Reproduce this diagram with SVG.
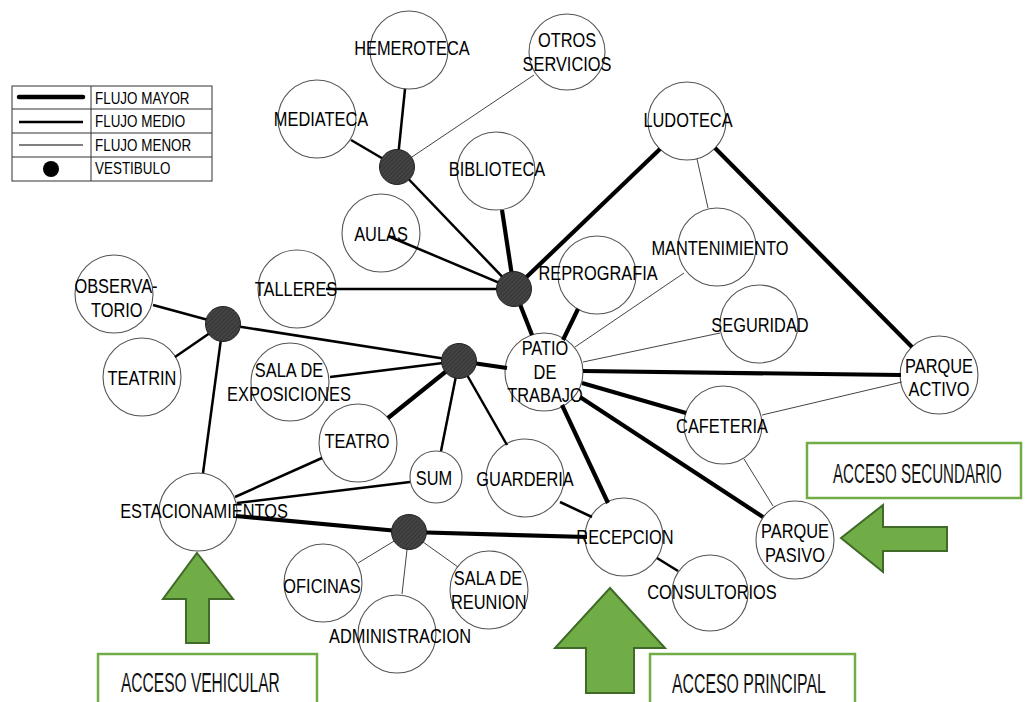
<svg xmlns="http://www.w3.org/2000/svg" width="1025" height="702" viewBox="0 0 1025 702">
<defs>
<pattern id="hatch" width="3" height="3" patternUnits="userSpaceOnUse" patternTransform="rotate(45)">
<rect width="3" height="3" fill="#444"/>
<line x1="0" y1="0" x2="0" y2="3" stroke="#2a2a2a" stroke-width="1.2"/>
</pattern>
</defs>
<style>
.n circle{fill:#fff;stroke:#555;stroke-width:1.1}
.n text,.lg text{font-family:"Liberation Sans",Arial,sans-serif;font-size:21px;fill:#000;text-anchor:middle}
.lg text{font-size:16px;text-anchor:start}
.hub{fill:url(#hatch);stroke:#222;stroke-width:1}
.t{stroke:#000;stroke-width:4.2;fill:none}
.m{stroke:#000;stroke-width:2.5;fill:none}
.l{stroke:#444;stroke-width:1;fill:none}
.box{fill:#fff;stroke:#70ad47;stroke-width:2.5}
.arr{fill:#70ad47;stroke:#3f6a27;stroke-width:2}
.acc{font-family:"Liberation Sans",Arial,sans-serif;font-size:28px;fill:#111}
</style>
<rect width="1025" height="702" fill="#fff"/>

<g id="legend" class="lg">
<rect x="12" y="86" width="200" height="95" fill="#fff" stroke="#333" stroke-width="1"/>
<line x1="12" y1="109" x2="212" y2="109" stroke="#333" stroke-width="1"/>
<line x1="12" y1="133" x2="212" y2="133" stroke="#333" stroke-width="1"/>
<line x1="12" y1="157" x2="212" y2="157" stroke="#333" stroke-width="1"/>
<line x1="91" y1="86" x2="91" y2="181" stroke="#333" stroke-width="1"/>
<line x1="19" y1="97" x2="83" y2="97" stroke="#000" stroke-width="4.5" stroke-linecap="round"/>
<line x1="19" y1="122" x2="83" y2="122" stroke="#000" stroke-width="2.5"/>
<line x1="19" y1="145" x2="83" y2="145" stroke="#000" stroke-width="1"/>
<circle cx="51" cy="169" r="8" fill="#000"/>
<text transform="translate(95 104) scale(0.84 1)">FLUJO MAYOR</text>
<text transform="translate(95 127) scale(0.84 1)">FLUJO MEDIO</text>
<text transform="translate(95 151) scale(0.84 1)">FLUJO MENOR</text>
<text transform="translate(95 174) scale(0.84 1)">VESTIBULO</text>
</g>

<g id="n-hemeroteca" class="n"><circle cx="409" cy="50" r="39"/><text transform="translate(412 55) scale(0.78 1)">HEMEROTECA</text></g>
<g id="n-otros" class="n"><circle cx="567" cy="52" r="38"/><text transform="translate(567 47) scale(0.78 1)"><tspan x="0">OTROS</tspan><tspan x="0" dy="24">SERVICIOS</tspan></text></g>
<g id="n-mediateca" class="n"><circle cx="317" cy="119" r="39"/><text transform="translate(321 126) scale(0.78 1)">MEDIATECA</text></g>
<g id="n-biblioteca" class="n"><circle cx="496" cy="171" r="39"/><text transform="translate(497 176) scale(0.78 1)">BIBLIOTECA</text></g>
<g id="n-aulas" class="n"><circle cx="381" cy="233" r="39"/><text transform="translate(381 241) scale(0.78 1)">AULAS</text></g>
<g id="n-talleres" class="n"><circle cx="297" cy="289" r="39"/><text transform="translate(296 296) scale(0.78 1)">TALLERES</text></g>
<g id="n-reprografia" class="n"><circle cx="597" cy="275" r="39"/><text transform="translate(598 280) scale(0.78 1)">REPROGRAFIA</text></g>
<g id="n-ludoteca" class="n"><circle cx="687" cy="121" r="39"/><text transform="translate(688 127) scale(0.78 1)">LUDOTECA</text></g>
<g id="n-mantenimiento" class="n"><circle cx="717" cy="247" r="39"/><text transform="translate(720 255) scale(0.78 1)">MANTENIMIENTO</text></g>
<g id="n-seguridad" class="n"><circle cx="759" cy="324" r="39"/><text transform="translate(760 332) scale(0.78 1)">SEGURIDAD</text></g>
<g id="n-parque-activo" class="n"><circle cx="939" cy="375" r="39"/><text transform="translate(939 373) scale(0.78 1)"><tspan x="0">PARQUE</tspan><tspan x="0" dy="23">ACTIVO</tspan></text></g>
<g id="n-patio" class="n"><circle cx="544" cy="372" r="39"/><text transform="translate(545 355) scale(0.78 1)"><tspan x="0">PATIO</tspan><tspan x="0" dy="24">DE</tspan><tspan x="0" dy="23">TRABAJO</tspan></text></g>
<g id="n-observatorio" class="n"><circle cx="114" cy="294" r="39"/><text transform="translate(116 293) scale(0.78 1)"><tspan x="0">OBSERVA-</tspan><tspan x="1" dy="24">TORIO</tspan></text></g>
<g id="n-teatrin" class="n"><circle cx="142" cy="377" r="39"/><text transform="translate(142 385) scale(0.78 1)">TEATRIN</text></g>
<g id="n-sala-expo" class="n"><circle cx="290" cy="382" r="39"/><text transform="translate(289 377) scale(0.78 1)"><tspan x="0">SALA DE</tspan><tspan x="0" dy="24">EXPOSICIONES</tspan></text></g>
<g id="n-teatro" class="n"><circle cx="358" cy="443" r="39"/><text transform="translate(357 448) scale(0.78 1)">TEATRO</text></g>
<g id="n-sum" class="n"><circle cx="436" cy="477" r="26"/><text transform="translate(434 485) scale(0.78 1)">SUM</text></g>
<g id="n-guarderia" class="n"><circle cx="525" cy="478" r="39"/><text transform="translate(525 486) scale(0.78 1)">GUARDERIA</text></g>
<g id="n-estacionamientos" class="n"><circle cx="198" cy="512" r="39"/><text transform="translate(204 518) scale(0.78 1)">ESTACIONAMIENTOS</text></g>
<g id="n-oficinas" class="n"><circle cx="323" cy="583" r="39"/><text transform="translate(322 593) scale(0.78 1)">OFICINAS</text></g>
<g id="n-administracion" class="n"><circle cx="397" cy="634" r="39"/><text transform="translate(400 643) scale(0.78 1)">ADMINISTRACION</text></g>
<g id="n-sala-reunion" class="n"><circle cx="489" cy="590" r="39"/><text transform="translate(488 585) scale(0.78 1)"><tspan x="0">SALA DE</tspan><tspan x="1" dy="24">REUNION</tspan></text></g>
<g id="n-recepcion" class="n"><circle cx="624" cy="537" r="39"/><text transform="translate(625 544) scale(0.78 1)">RECEPCION</text></g>
<g id="n-consultorios" class="n"><circle cx="710" cy="593" r="38"/><text transform="translate(712 599) scale(0.78 1)">CONSULTORIOS</text></g>
<g id="n-cafeteria" class="n"><circle cx="723" cy="425" r="39"/><text transform="translate(722 433) scale(0.78 1)">CAFETERIA</text></g>
<g id="n-parque-pasivo" class="n"><circle cx="795" cy="540" r="39"/><text transform="translate(795 538) scale(0.78 1)"><tspan x="0">PARQUE</tspan><tspan x="0" dy="24">PASIVO</tspan></text></g>

<g id="connectors">
<line class="t" x1="514" y1="289" x2="502" y2="210"/>
<line class="t" x1="514" y1="289" x2="660" y2="149"/>
<line class="t" x1="514" y1="289" x2="532" y2="335"/>
<line class="t" x1="563" y1="340" x2="578" y2="309"/>
<line class="t" x1="583" y1="371" x2="901" y2="375"/>
<line class="t" x1="582" y1="383" x2="686" y2="413"/>
<line class="t" x1="580" y1="397" x2="763" y2="517"/>
<line class="t" x1="562" y1="405" x2="608" y2="503"/>
<line class="t" x1="459" y1="361" x2="507" y2="368"/>
<line class="t" x1="459" y1="361" x2="388" y2="418"/>
<line class="t" x1="715" y1="148" x2="912" y2="347"/>
<line class="t" x1="236" y1="516" x2="409" y2="532"/>
<line class="t" x1="409" y1="532" x2="587" y2="537"/>

<line class="m" x1="397" y1="167" x2="405" y2="89"/>
<line class="m" x1="397" y1="167" x2="351" y2="140"/>
<line class="m" x1="397" y1="167" x2="514" y2="289"/>
<line class="m" x1="514" y1="289" x2="388" y2="236"/>
<line class="m" x1="514" y1="289" x2="326" y2="289"/>
<line class="m" x1="459" y1="361" x2="223" y2="324"/>
<line class="m" x1="459" y1="361" x2="330" y2="377"/>
<line class="m" x1="459" y1="361" x2="441" y2="451"/>
<line class="m" x1="459" y1="361" x2="507" y2="445"/>
<line class="m" x1="223" y1="324" x2="153" y2="305"/>
<line class="m" x1="223" y1="324" x2="175" y2="357"/>
<line class="m" x1="223" y1="324" x2="203" y2="473"/>
<line class="m" x1="235" y1="497" x2="322" y2="458"/>
<line class="m" x1="237" y1="503" x2="410" y2="482"/>
<line class="m" x1="560" y1="502" x2="592" y2="517"/>
<line class="m" x1="657" y1="558" x2="678" y2="571"/>

<line class="l" x1="397" y1="167" x2="534" y2="75"/>
<line class="l" x1="575" y1="347" x2="684" y2="273"/>
<line class="l" x1="583" y1="362" x2="720" y2="333"/>
<line class="l" x1="762" y1="415" x2="902" y2="382"/>
<line class="l" x1="744" y1="459" x2="773" y2="506"/>
<line class="l" x1="697" y1="159" x2="708" y2="208"/>
<line class="l" x1="409" y1="532" x2="358" y2="563"/>
<line class="l" x1="409" y1="532" x2="402" y2="594"/>
<line class="l" x1="409" y1="532" x2="458" y2="567"/>
</g>

<g id="h1"><circle class="hub" cx="397" cy="167" r="17.5"/></g>
<g id="h2"><circle class="hub" cx="514" cy="289" r="17.5"/></g>
<g id="h3"><circle class="hub" cx="459" cy="361" r="17.5"/></g>
<g id="h4"><circle class="hub" cx="223" cy="324" r="17.5"/></g>
<g id="h5"><circle class="hub" cx="409" cy="532" r="17.5"/></g>

<g id="acceso-vehicular">
<polygon class="arr" points="197,553 233,599 209,599 209,643 186,643 186,599 163,599"/>
<rect class="box" x="98" y="654" width="219" height="60"/>
<text class="acc" transform="translate(121 692) scale(0.555 1)">ACCESO VEHICULAR</text>
</g>
<g id="acceso-principal">
<polygon class="arr" points="610,588 665,648 634,648 634,693 586,693 586,648 555,648"/>
<rect class="box" x="650" y="654" width="205" height="60"/>
<text class="acc" transform="translate(672 693) scale(0.566 1)">ACCESO PRINCIPAL</text>
</g>
<g id="acceso-secundario">
<polygon class="arr" points="841,538 883,505 883,527 947,527 947,551 883,551 883,572"/>
<rect class="box" x="807" y="443" width="214" height="55"/>
<text class="acc" transform="translate(833 483) scale(0.54 1)">ACCESO SECUNDARIO</text>
</g>
</svg>
